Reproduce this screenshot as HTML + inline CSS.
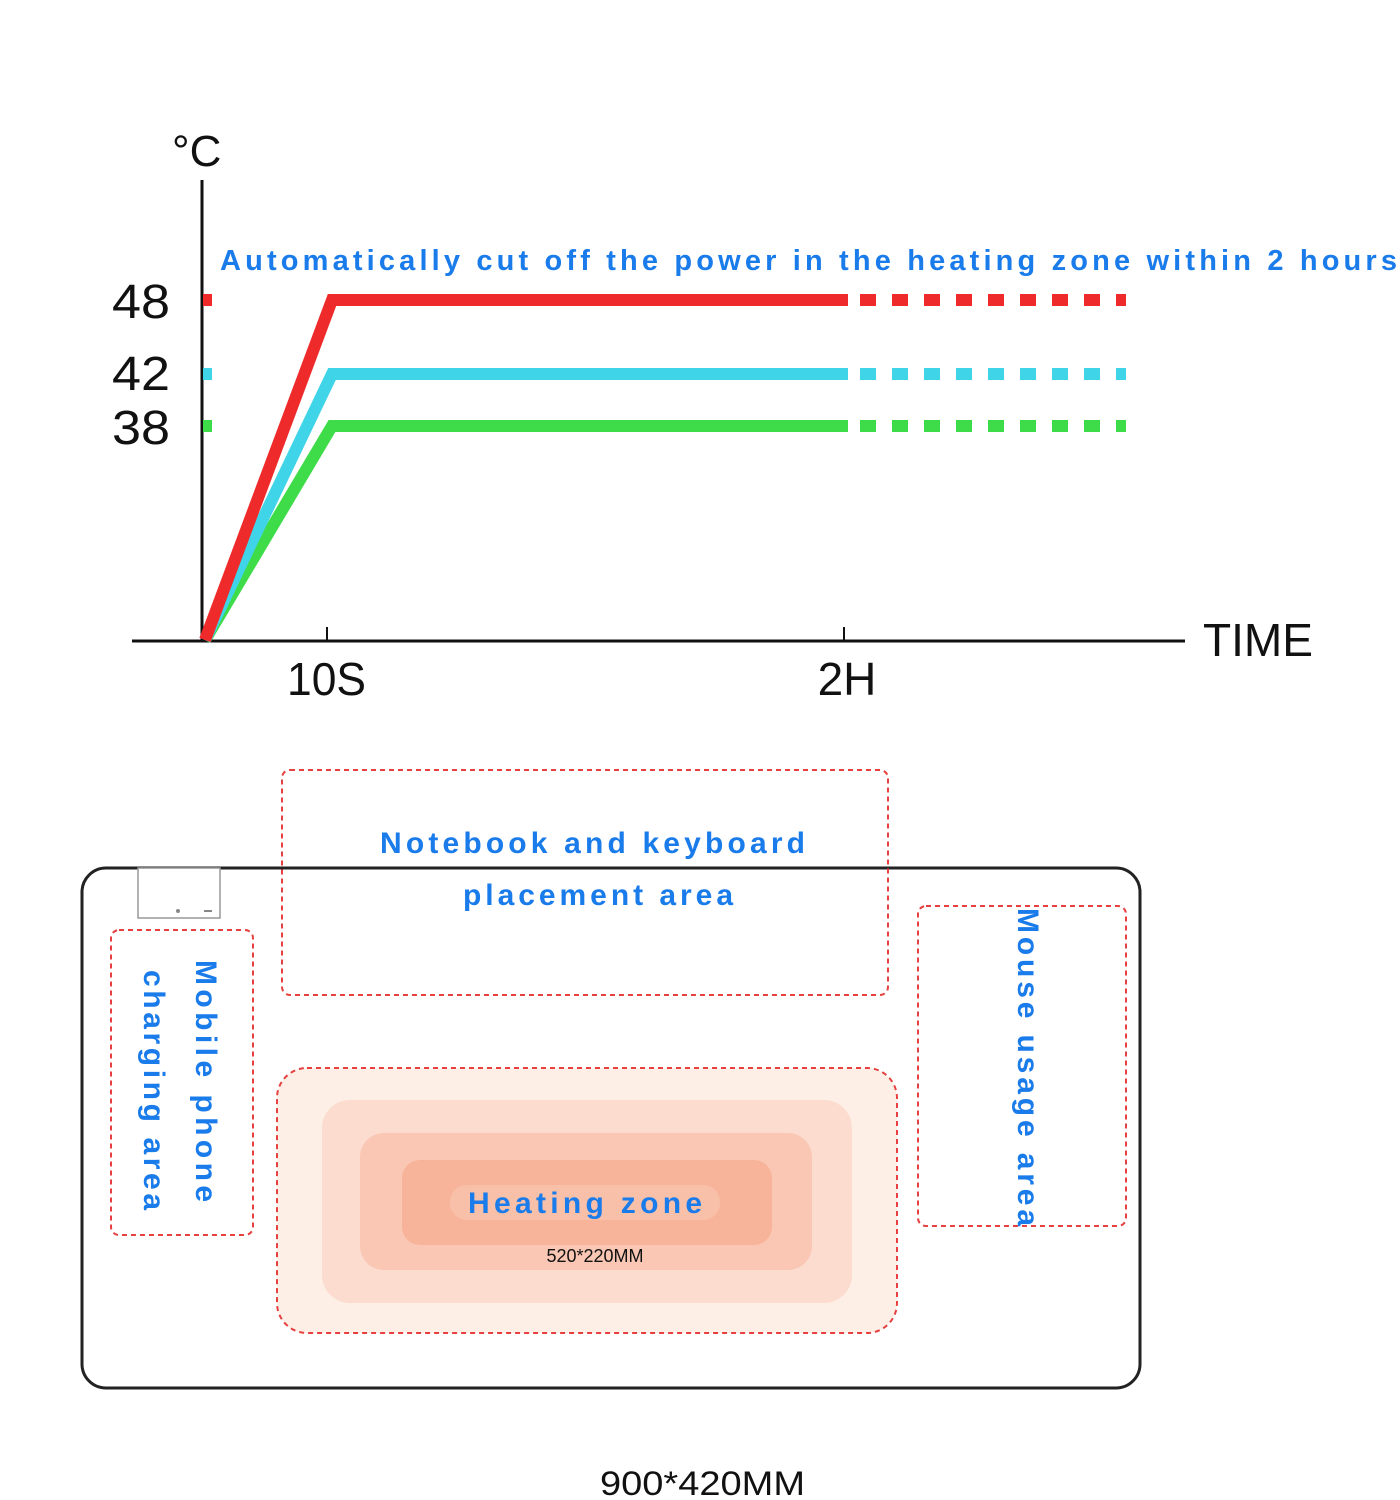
<!DOCTYPE html>
<html><head><meta charset="utf-8"><style>
html,body{margin:0;padding:0;background:#fff;}
svg{display:block;}
.b{font-family:"Liberation Sans",sans-serif;fill:#1a7bea;}
.k{font-family:"Liberation Sans",sans-serif;fill:#111;}
</style></head><body>
<svg width="1400" height="1500" viewBox="0 0 1400 1500" xmlns="http://www.w3.org/2000/svg">
<rect width="1400" height="1500" fill="#fff"/>
<line x1="202" y1="180" x2="202" y2="641" stroke="#111" stroke-width="3"/>
<line x1="132" y1="641" x2="1185" y2="641" stroke="#111" stroke-width="3"/>
<line x1="327" y1="627" x2="327" y2="641" stroke="#111" stroke-width="2"/>
<line x1="844" y1="627" x2="844" y2="641" stroke="#111" stroke-width="2"/>
<text x="172" y="166" class="k" font-size="44">°C</text>
<text x="112" y="318" class="k" font-size="48" textLength="58" lengthAdjust="spacingAndGlyphs">48</text>
<text x="112" y="390" class="k" font-size="48" textLength="58" lengthAdjust="spacingAndGlyphs">42</text>
<text x="112" y="444" class="k" font-size="48" textLength="58" lengthAdjust="spacingAndGlyphs">38</text>
<text x="287" y="695" class="k" font-size="46" textLength="79" lengthAdjust="spacingAndGlyphs">10S</text>
<text x="847" y="695" class="k" font-size="46" text-anchor="middle">2H</text>
<text x="1203" y="656" class="k" font-size="46" textLength="110" lengthAdjust="spacingAndGlyphs">TIME</text>
<text x="220" y="270" class="b" font-size="29" font-weight="bold" textLength="1177" lengthAdjust="spacing">Automatically cut off the power in the heating zone within 2 hours</text>
<rect x="203" y="294" width="9" height="12" fill="#ee2a2a"/>
<rect x="203" y="368" width="9" height="12" fill="#3fd4e8"/>
<rect x="203" y="420" width="9" height="12" fill="#3fdc4a"/>
<polyline points="205,640 332,426 848,426" fill="none" stroke="#3fdc4a" stroke-width="12"/>
<polyline points="205,640 332,374 848,374" fill="none" stroke="#3fd4e8" stroke-width="12"/>
<polyline points="205,640 332,300 848,300" fill="none" stroke="#ee2a2a" stroke-width="12"/>
<line x1="860" y1="426" x2="1126" y2="426" stroke="#3fdc4a" stroke-width="12" stroke-dasharray="16,16"/>
<line x1="860" y1="374" x2="1126" y2="374" stroke="#3fd4e8" stroke-width="12" stroke-dasharray="16,16"/>
<line x1="860" y1="300" x2="1126" y2="300" stroke="#ee2a2a" stroke-width="12" stroke-dasharray="16,16"/>
<rect x="82" y="868" width="1058" height="520" rx="24" fill="none" stroke="#222" stroke-width="3"/>
<rect x="138" y="868" width="82" height="50" fill="#fff" stroke="#999" stroke-width="1.5"/>
<circle cx="178" cy="911" r="2" fill="#888"/><rect x="204" y="910" width="8" height="2" fill="#888"/>
<rect x="282" y="770" width="606" height="225" rx="8" fill="none" stroke="#e64040" stroke-width="2" stroke-dasharray="5,4"/>
<text x="380" y="853" class="b" font-size="30" font-weight="bold" textLength="425" lengthAdjust="spacing">Notebook and keyboard</text>
<text x="463" y="905" class="b" font-size="30" font-weight="bold" textLength="270" lengthAdjust="spacing">placement area</text>
<rect x="111" y="930" width="142" height="305" rx="8" fill="none" stroke="#e64040" stroke-width="2" stroke-dasharray="5,4"/>
<text transform="translate(196,960) rotate(90)" class="b" font-size="30" font-weight="bold" textLength="242" lengthAdjust="spacing">Mobile phone</text>
<text transform="translate(144,970) rotate(90)" class="b" font-size="30" font-weight="bold" textLength="240" lengthAdjust="spacing">charging area</text>
<rect x="918" y="906" width="208" height="320" rx="8" fill="none" stroke="#e64040" stroke-width="2" stroke-dasharray="5,4"/>
<text transform="translate(1018,908) rotate(90)" class="b" font-size="30" font-weight="bold" textLength="318" lengthAdjust="spacing">Mouse usage area</text>
<rect x="277" y="1068" width="620" height="265" rx="30" fill="#fdeee6" stroke="#e64040" stroke-width="2" stroke-dasharray="5,4"/>
<rect x="322" y="1100" width="530" height="203" rx="28" fill="#fbdccf"/>
<rect x="360" y="1133" width="452" height="137" rx="24" fill="#f9c7b3"/>
<rect x="402" y="1160" width="370" height="85" rx="18" fill="#f7b49a"/>
<rect x="450" y="1185" width="270" height="35" rx="17" fill="#f9c0a9"/>
<text x="468" y="1213" class="b" font-size="30" font-weight="bold" textLength="234" lengthAdjust="spacing">Heating zone</text>
<text x="595" y="1262" class="k" font-size="18" text-anchor="middle">520*220MM</text>
<text x="600" y="1495" class="k" font-size="34" textLength="205" lengthAdjust="spacingAndGlyphs">900*420MM</text>
</svg>
</body></html>
